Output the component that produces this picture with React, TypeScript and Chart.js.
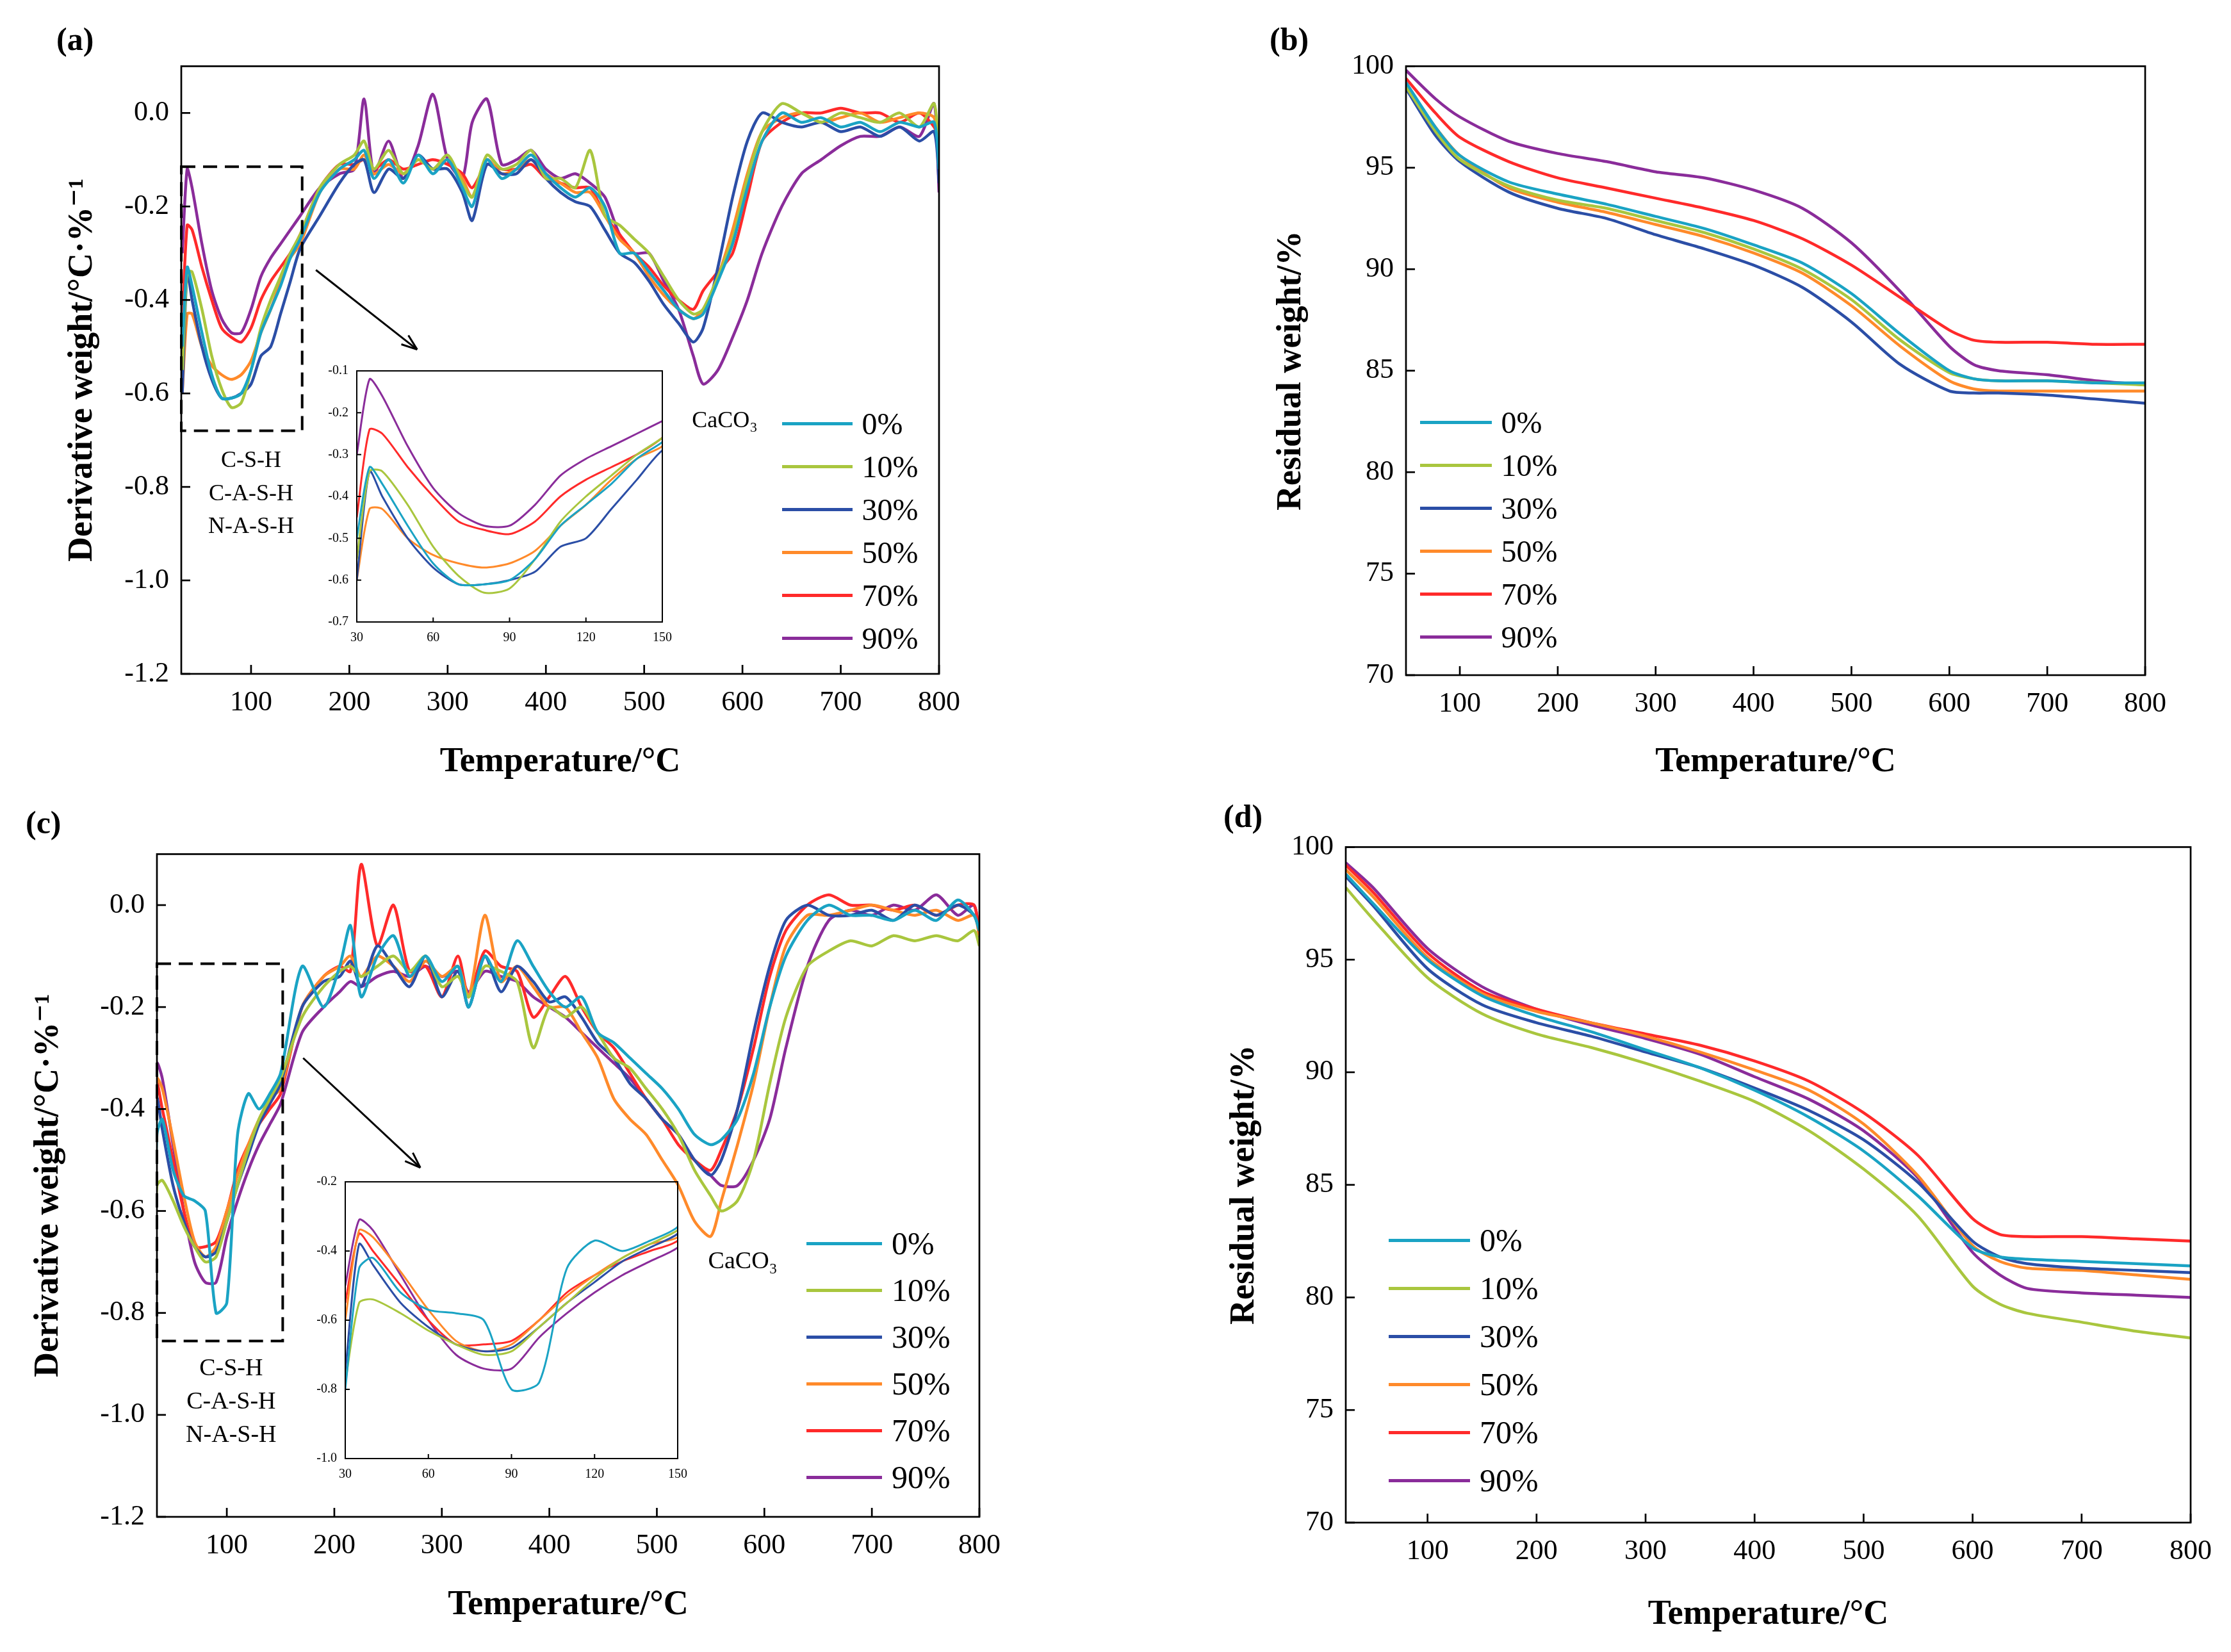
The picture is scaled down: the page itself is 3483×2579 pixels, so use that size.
import React, { useEffect, useRef } from "react";
import { Chart, registerables } from "chart.js";
Chart.register(...registerables);

const names = ["0%", "10%", "30%", "50%", "70%", "90%"];
const colors = ["#1aa3c4", "#a9c63e", "#2b4ea6", "#ff8a2a", "#ff2a2a", "#8a2c9a"];

const dtgX = [30,35,40,50,60,70,80,90,100,110,120,130,140,150,170,190,205,215,225,240,255,270,285,300,315,325,340,355,370,385,400,415,430,445,460,475,490,505,520,535,550,560,575,590,605,620,640,660,680,700,720,740,760,780,795,800];

const a0 = [-0.5,-0.33,-0.37,-0.47,-0.56,-0.61,-0.61,-0.6,-0.55,-0.47,-0.42,-0.37,-0.31,-0.27,-0.17,-0.12,-0.1,-0.08,-0.14,-0.1,-0.15,-0.09,-0.13,-0.1,-0.16,-0.2,-0.1,-0.14,-0.12,-0.09,-0.13,-0.16,-0.18,-0.16,-0.2,-0.3,-0.3,-0.34,-0.38,-0.42,-0.44,-0.43,-0.36,-0.28,-0.16,-0.06,0.0,-0.02,-0.01,-0.03,-0.02,-0.04,-0.02,-0.03,-0.02,-0.12];
const a10 = [-0.55,-0.34,-0.34,-0.42,-0.52,-0.59,-0.63,-0.62,-0.55,-0.46,-0.4,-0.35,-0.3,-0.26,-0.16,-0.11,-0.09,-0.06,-0.12,-0.08,-0.13,-0.1,-0.12,-0.09,-0.15,-0.18,-0.09,-0.12,-0.11,-0.08,-0.14,-0.14,-0.16,-0.08,-0.22,-0.24,-0.27,-0.3,-0.35,-0.4,-0.43,-0.42,-0.35,-0.27,-0.14,-0.04,0.02,0.0,-0.02,0.0,-0.01,-0.02,0.0,-0.03,0.02,-0.1];
const a30 = [-0.6,-0.34,-0.4,-0.5,-0.57,-0.61,-0.61,-0.6,-0.58,-0.52,-0.5,-0.43,-0.36,-0.29,-0.22,-0.15,-0.11,-0.1,-0.17,-0.12,-0.14,-0.09,-0.12,-0.12,-0.17,-0.23,-0.11,-0.13,-0.13,-0.1,-0.14,-0.17,-0.19,-0.2,-0.25,-0.3,-0.32,-0.36,-0.41,-0.45,-0.49,-0.46,-0.33,-0.18,-0.06,0.0,-0.02,-0.03,-0.02,-0.04,-0.03,-0.05,-0.03,-0.06,-0.04,-0.15];
const a50 = [-0.6,-0.43,-0.43,-0.5,-0.54,-0.56,-0.57,-0.56,-0.53,-0.47,-0.42,-0.36,-0.31,-0.28,-0.17,-0.12,-0.12,-0.09,-0.13,-0.11,-0.13,-0.1,-0.12,-0.1,-0.14,-0.18,-0.1,-0.13,-0.12,-0.1,-0.13,-0.15,-0.17,-0.17,-0.22,-0.27,-0.3,-0.35,-0.39,-0.42,-0.44,-0.42,-0.35,-0.25,-0.13,-0.04,-0.01,0.0,-0.02,-0.01,0.0,-0.02,-0.01,0.0,-0.01,-0.08];
const a70 = [-0.45,-0.24,-0.25,-0.33,-0.4,-0.46,-0.48,-0.49,-0.46,-0.4,-0.36,-0.33,-0.3,-0.26,-0.16,-0.11,-0.11,-0.1,-0.12,-0.1,-0.12,-0.11,-0.1,-0.11,-0.13,-0.16,-0.11,-0.12,-0.12,-0.11,-0.14,-0.15,-0.16,-0.16,-0.22,-0.26,-0.3,-0.33,-0.37,-0.4,-0.42,-0.38,-0.34,-0.3,-0.18,-0.06,-0.02,0.0,0.0,0.01,0.0,0.0,-0.02,0.0,-0.03,-0.06];
const a90 = [-0.3,-0.12,-0.16,-0.28,-0.38,-0.44,-0.47,-0.47,-0.42,-0.35,-0.31,-0.28,-0.25,-0.22,-0.16,-0.13,-0.12,0.03,-0.13,-0.06,-0.14,-0.07,0.04,-0.1,-0.14,-0.02,0.03,-0.11,-0.1,-0.08,-0.12,-0.14,-0.13,-0.15,-0.18,-0.26,-0.3,-0.3,-0.36,-0.42,-0.52,-0.58,-0.55,-0.48,-0.4,-0.3,-0.2,-0.13,-0.1,-0.07,-0.05,-0.05,-0.03,-0.05,0.02,-0.17];

const c0 = [-0.8,-0.45,-0.42,-0.52,-0.57,-0.58,-0.6,-0.8,-0.78,-0.45,-0.37,-0.4,-0.37,-0.33,-0.12,-0.2,-0.12,-0.04,-0.18,-0.1,-0.06,-0.14,-0.1,-0.15,-0.12,-0.2,-0.1,-0.15,-0.07,-0.12,-0.17,-0.2,-0.18,-0.25,-0.27,-0.3,-0.33,-0.36,-0.4,-0.45,-0.47,-0.46,-0.42,-0.33,-0.2,-0.1,-0.03,0.0,-0.02,-0.02,-0.03,-0.01,-0.03,0.01,-0.02,-0.05];
const c10 = [-0.78,-0.55,-0.54,-0.58,-0.63,-0.67,-0.7,-0.69,-0.62,-0.55,-0.48,-0.42,-0.38,-0.34,-0.22,-0.16,-0.13,-0.12,-0.14,-0.12,-0.1,-0.13,-0.1,-0.16,-0.14,-0.18,-0.12,-0.13,-0.15,-0.28,-0.2,-0.22,-0.2,-0.25,-0.3,-0.32,-0.36,-0.4,-0.45,-0.52,-0.57,-0.6,-0.58,-0.5,-0.35,-0.22,-0.12,-0.09,-0.07,-0.08,-0.06,-0.07,-0.06,-0.07,-0.05,-0.08];
const c30 = [-0.75,-0.38,-0.44,-0.55,-0.62,-0.67,-0.69,-0.68,-0.62,-0.55,-0.49,-0.43,-0.39,-0.35,-0.2,-0.15,-0.14,-0.11,-0.16,-0.08,-0.12,-0.16,-0.1,-0.18,-0.13,-0.2,-0.1,-0.17,-0.12,-0.15,-0.19,-0.18,-0.22,-0.27,-0.3,-0.35,-0.38,-0.42,-0.45,-0.5,-0.53,-0.5,-0.4,-0.25,-0.12,-0.03,0.0,-0.02,-0.02,-0.01,-0.03,0.0,-0.02,0.0,-0.02,-0.05];
const c50 = [-0.6,-0.34,-0.36,-0.46,-0.57,-0.66,-0.69,-0.67,-0.6,-0.53,-0.47,-0.42,-0.38,-0.36,-0.2,-0.14,-0.12,-0.1,-0.14,-0.1,-0.12,-0.15,-0.11,-0.14,-0.12,-0.18,-0.02,-0.15,-0.12,-0.16,-0.2,-0.2,-0.25,-0.3,-0.38,-0.42,-0.45,-0.5,-0.55,-0.62,-0.65,-0.58,-0.47,-0.35,-0.2,-0.08,-0.02,-0.02,-0.01,0.0,-0.01,-0.02,-0.01,-0.03,-0.02,-0.06];
const c70 = [-0.55,-0.35,-0.4,-0.5,-0.6,-0.67,-0.67,-0.66,-0.6,-0.52,-0.47,-0.43,-0.4,-0.37,-0.2,-0.14,-0.12,-0.13,0.08,-0.08,0.0,-0.13,-0.12,-0.18,-0.1,-0.18,-0.09,-0.12,-0.13,-0.22,-0.18,-0.14,-0.2,-0.25,-0.28,-0.33,-0.38,-0.42,-0.47,-0.5,-0.52,-0.48,-0.4,-0.28,-0.14,-0.05,0.0,0.02,0.0,0.0,-0.01,0.0,-0.02,0.0,0.0,-0.06];
const c90 = [-0.5,-0.31,-0.34,-0.47,-0.6,-0.7,-0.74,-0.74,-0.65,-0.58,-0.52,-0.47,-0.43,-0.39,-0.25,-0.2,-0.17,-0.15,-0.16,-0.14,-0.13,-0.14,-0.12,-0.14,-0.13,-0.17,-0.13,-0.14,-0.15,-0.18,-0.2,-0.22,-0.25,-0.28,-0.31,-0.34,-0.38,-0.42,-0.45,-0.5,-0.53,-0.55,-0.55,-0.5,-0.42,-0.28,-0.12,-0.03,-0.01,-0.02,0.0,-0.01,0.02,-0.02,0.0,-0.07];

const bX = [45,75,100,150,200,250,300,350,400,450,500,550,600,625,650,700,750,800];
const b0 = [99.2,97,95.6,94.3,93.7,93.2,92.6,92,91.2,90.3,88.8,86.8,85,84.6,84.5,84.5,84.4,84.4];
const b10 = [99,96.8,95.4,94.1,93.4,93,92.4,91.8,91,90,88.5,86.5,84.9,84.6,84.5,84.5,84.4,84.3];
const b30 = [98.9,96.6,95.3,93.8,93,92.5,91.7,91,90.2,89.1,87.4,85.3,84,83.9,83.9,83.8,83.6,83.4];
const b50 = [99.1,97,95.6,94,93.3,92.8,92.2,91.6,90.8,89.8,88.2,86.2,84.5,84.1,84,84,84,84];
const b70 = [99.4,97.7,96.5,95.3,94.5,94,93.5,93,92.4,91.5,90.2,88.6,87,86.5,86.4,86.4,86.3,86.3];
const b90 = [99.8,98.4,97.5,96.3,95.7,95.3,94.8,94.5,93.9,93,91.3,88.9,86.2,85.3,85,84.8,84.5,84.3];

const dX = [25,50,100,150,200,250,300,350,400,450,500,550,600,625,650,700,750,800];
const d0 = [98.8,97.5,95,93.4,92.5,91.8,91,90.2,89.2,88,86.5,84.5,82.2,81.8,81.7,81.6,81.5,81.4];
const d10 = [98.2,96.8,94.2,92.6,91.7,91.1,90.4,89.6,88.7,87.4,85.7,83.6,80.5,79.7,79.3,78.9,78.5,78.2];
const d30 = [98.7,97.4,94.6,93,92.2,91.6,90.9,90.2,89.3,88.3,87,85.1,82.5,81.8,81.5,81.3,81.2,81.1];
const d50 = [99,97.8,95.1,93.5,92.7,92.2,91.6,90.9,90.1,89.2,87.7,85.4,82.3,81.6,81.3,81.2,81,80.8];
const d70 = [99.2,98,95.3,93.6,92.8,92.2,91.7,91.2,90.5,89.6,88.2,86.3,83.5,82.8,82.7,82.7,82.6,82.5];
const d90 = [99.3,98.2,95.5,93.8,92.8,92.1,91.5,90.8,89.8,88.8,87.4,85.3,82,81,80.4,80.2,80.1,80.0];

const xTicks = [100,200,300,400,500,600,700,800];
const dtgTicks = [0,-0.2,-0.4,-0.6,-0.8,-1.0,-1.2];
const tgTicks = [70,75,80,85,90,95,100];
const insetXTicks = [30,60,90,120,150];
const insetATicks = [-0.7,-0.6,-0.5,-0.4,-0.3,-0.2,-0.1];
const insetCTicks = [-1.0,-0.8,-0.6,-0.4,-0.2];

const SERIF = "'Liberation Serif', 'DejaVu Serif', serif";

function makeSets(xs: number[], ys: number[][], bw: number) {
  return ys.map((v, i) => ({
    label: names[i],
    data: xs.map((x, j) => ({ x, y: v[j] })),
    borderColor: colors[i],
    backgroundColor: colors[i],
    borderWidth: bw,
    pointRadius: 0,
    tension: 0.25,
    fill: false,
  }));
}

type Anno = (ch: any, ctx: CanvasRenderingContext2D) => void;

interface PanelProps {
  box: [number, number, number, number];
  L: number; B: number;
  xs: number[]; ys: number[][];
  xmin: number; xmax: number; ymin: number; ymax: number;
  xt: number[]; yt: number[];
  dec: number;
  xTitle?: string; yTitle?: string;
  tickSize: number; titleSize: number; bw: number; tickLen: number;
  anno?: Anno;
}

function Panel(p: PanelProps) {
  const ref = useRef<HTMLCanvasElement>(null);
  useEffect(() => {
    const tickPlugin = {
      id: "inward",
      afterDatasetsDraw(ch: any) {
        const ctx = ch.ctx as CanvasRenderingContext2D;
        const a = ch.chartArea;
        ctx.save();
        ctx.strokeStyle = "#000";
        ctx.lineWidth = Math.max(2, p.bw * 0.6);
        ctx.strokeRect(a.left, a.top, a.right - a.left, a.bottom - a.top);
        const xs = ch.scales.x, ys = ch.scales.y;
        p.xt.forEach((v) => {
          const px = xs.getPixelForValue(v);
          ctx.beginPath(); ctx.moveTo(px, a.bottom); ctx.lineTo(px, a.bottom - p.tickLen); ctx.stroke();
        });
        p.yt.forEach((v) => {
          const py = ys.getPixelForValue(v);
          ctx.beginPath(); ctx.moveTo(a.left, py); ctx.lineTo(a.left + p.tickLen, py); ctx.stroke();
        });
        if (p.anno) p.anno(ch, ctx);
        ctx.restore();
      },
    };
    const chart = new Chart(ref.current!, {
      type: "line",
      data: { datasets: makeSets(p.xs, p.ys, p.bw) as any },
      plugins: [tickPlugin],
      options: {
        animation: false,
        responsive: false,
        layout: { padding: { top: 30, right: 40, left: 0, bottom: 0 } },
        plugins: { legend: { display: false }, tooltip: { enabled: false } },
        scales: {
          x: {
            type: "linear", min: p.xmin, max: p.xmax,
            afterBuildTicks: (s: any) => { s.ticks = p.xt.map((v) => ({ value: v })); },
            afterFit: (s: any) => { s.height = p.B; },
            grid: { display: false },
            border: { display: false },
            ticks: { color: "#000", font: { family: SERIF, size: p.tickSize }, maxRotation: 0, padding: p.tickSize * 0.25 },
            title: p.xTitle ? { display: true, text: p.xTitle, color: "#000", font: { family: SERIF, size: p.titleSize, weight: "bold" } } : { display: false },
          },
          y: {
            type: "linear", min: p.ymin, max: p.ymax,
            afterBuildTicks: (s: any) => { s.ticks = p.yt.map((v) => ({ value: v })); },
            afterFit: (s: any) => { s.width = p.L; },
            grid: { display: false },
            border: { display: false },
            ticks: { color: "#000", font: { family: SERIF, size: p.tickSize }, callback: (v: any) => Number(v).toFixed(p.dec), padding: p.tickSize * 0.25 },
            title: p.yTitle ? { display: true, text: p.yTitle, color: "#000", font: { family: SERIF, size: p.titleSize, weight: "bold" } } : { display: false },
          },
        },
      } as any,
    });
    return () => chart.destroy();
  }, []);
  const [l, t, r, b] = p.box;
  const W = r - l + p.L + 40;
  const H = b - t + p.B + 30;
  return (
    <canvas ref={ref} width={W} height={H}
      style={{ position: "absolute", left: l - p.L, top: t - 30, width: W, height: H }} />
  );
}

function Legend({ x, y, gap, len, size }: { x: number; y: number; gap: number; len: number; size: number }) {
  return (
    <>
      {names.map((n, i) => (
        <div key={n} style={{ position: "absolute", left: x, top: y + i * gap - size * 0.6, height: size * 1.2, display: "flex", alignItems: "center", fontFamily: SERIF, fontSize: size, whiteSpace: "nowrap" }}>
          <div style={{ width: len, height: 5, background: colors[i], marginRight: size * 0.3 }} />
          <span>{n}</span>
        </div>
      ))}
    </>
  );
}

function label(ctx: CanvasRenderingContext2D, ch: any, x: number, y: number, text: string, size: number) {
  ctx.fillStyle = "#000";
  ctx.font = `${size}px ${SERIF}`;
  ctx.textAlign = "center";
  ctx.textBaseline = "middle";
  ctx.fillText(text, ch.scales.x.getPixelForValue(x), ch.scales.y.getPixelForValue(y));
}

function arrow(ctx: CanvasRenderingContext2D, ch: any, x1: number, y1: number, x2: number, y2: number) {
  const sx = ch.scales.x, sy = ch.scales.y;
  const ax = sx.getPixelForValue(x1), ay = sy.getPixelForValue(y1);
  const bx = sx.getPixelForValue(x2), by = sy.getPixelForValue(y2);
  ctx.strokeStyle = "#000"; ctx.lineWidth = 3; ctx.setLineDash([]);
  ctx.beginPath(); ctx.moveTo(ax, ay); ctx.lineTo(bx, by); ctx.stroke();
  const ang = Math.atan2(by - ay, bx - ax);
  ctx.beginPath();
  ctx.moveTo(bx, by);
  ctx.lineTo(bx - 26 * Math.cos(ang - 0.35), by - 26 * Math.sin(ang - 0.35));
  ctx.moveTo(bx, by);
  ctx.lineTo(bx - 26 * Math.cos(ang + 0.35), by - 26 * Math.sin(ang + 0.35));
  ctx.stroke();
}

function dashRect(ctx: CanvasRenderingContext2D, ch: any, x1: number, y1: number, x2: number, y2: number) {
  const sx = ch.scales.x, sy = ch.scales.y;
  ctx.strokeStyle = "#000"; ctx.lineWidth = 4; ctx.setLineDash([22, 12]);
  const a = sx.getPixelForValue(x1), b = sy.getPixelForValue(y1);
  ctx.strokeRect(a, b, sx.getPixelForValue(x2) - a, sy.getPixelForValue(y2) - b);
  ctx.setLineDash([]);
}

const annoA: Anno = (ch, ctx) => {
  dashRect(ctx, ch, 29, -0.115, 152, -0.68);
  arrow(ctx, ch, 166, -0.336, 269, -0.506);
  label(ctx, ch, 100, -0.745, "C-S-H", 36);
  label(ctx, ch, 100, -0.815, "C-A-S-H", 36);
  label(ctx, ch, 100, -0.885, "N-A-S-H", 36);
  label(ctx, ch, 582, -0.66, "CaCO₃", 36);
};
const annoC: Anno = (ch, ctx) => {
  dashRect(ctx, ch, 35, -0.115, 152, -0.855);
  arrow(ctx, ch, 171, -0.3, 280, -0.515);
  label(ctx, ch, 104, -0.91, "C-S-H", 38);
  label(ctx, ch, 104, -0.975, "C-A-S-H", 38);
  label(ctx, ch, 104, -1.04, "N-A-S-H", 38);
  label(ctx, ch, 580, -0.7, "CaCO₃", 38);
};

function Tag({ x, y, t }: { x: number; y: number; t: string }) {
  return <div style={{ position: "absolute", left: x, top: y, fontFamily: SERIF, fontWeight: "bold", fontSize: 50 }}>{t}</div>;
}

export default function App() {
  const big = { tickSize: 44, titleSize: 54, bw: 4.5, tickLen: 14 };
  const small = { tickSize: 20, titleSize: 20, bw: 3, tickLen: 7 };
  const yA = "Derivative weight/°C·%⁻¹";
  return (
    <div style={{ position: "fixed", left: 0, top: 0, width: 3483, height: 2579, background: "#fff", overflow: "hidden" }}>
      <Panel box={[283, 96, 1470, 1052]} L={190} B={174} xs={dtgX} ys={[a0, a10, a30, a50, a70, a90]}
        xmin={29} xmax={800} ymin={-1.2} ymax={0.1} xt={xTicks} yt={dtgTicks} dec={1}
        xTitle="Temperature/°C" yTitle={yA} anno={annoA} {...big} />
      <Panel box={[557, 579, 1034, 971]} L={50} B={34} xs={dtgX} ys={[a0, a10, a30, a50, a70, a90]}
        xmin={30} xmax={150} ymin={-0.7} ymax={-0.1} xt={insetXTicks} yt={insetATicks} dec={1} {...small} />
      <Panel box={[2195, 96, 3353, 1054]} L={215} B={172} xs={bX} ys={[b0, b10, b30, b50, b70, b90]}
        xmin={45} xmax={800} ymin={70} ymax={100} xt={xTicks} yt={tgTicks} dec={0}
        xTitle="Temperature/°C" yTitle="Residual weight/%" {...big} />
      <Panel box={[245, 1326, 1533, 2368]} L={205} B={174} xs={dtgX} ys={[c0, c10, c30, c50, c70, c90]}
        xmin={35} xmax={800} ymin={-1.2} ymax={0.1} xt={xTicks} yt={dtgTicks} dec={1}
        xTitle="Temperature/°C" yTitle={yA} anno={annoC} {...big} />
      <Panel box={[539, 1845, 1058, 2277]} L={50} B={34} xs={dtgX} ys={[c0, c10, c30, c50, c70, c90]}
        xmin={30} xmax={150} ymin={-1.0} ymax={-0.2} xt={insetXTicks} yt={insetCTicks} dec={1} {...small} />
      <Panel box={[2101, 1315, 3424, 2377]} L={194} B={180} xs={dX} ys={[d0, d10, d30, d50, d70, d90]}
        xmin={25} xmax={800} ymin={70} ymax={100} xt={xTicks} yt={tgTicks} dec={0}
        xTitle="Temperature/°C" yTitle="Residual weight/%" {...big} />
      <Legend x={1221} y={662} gap={67} len={110} size={48} />
      <Legend x={2217} y={660} gap={67} len={112} size={48} />
      <Legend x={1259} y={1941} gap={73} len={118} size={50} />
      <Legend x={2168} y={1936} gap={75} len={127} size={50} />
      <Tag x={88} y={32} t="(a)" />
      <Tag x={1982} y={32} t="(b)" />
      <Tag x={40} y={1255} t="(c)" />
      <Tag x={1910} y={1245} t="(d)" />
    </div>
  );
}
